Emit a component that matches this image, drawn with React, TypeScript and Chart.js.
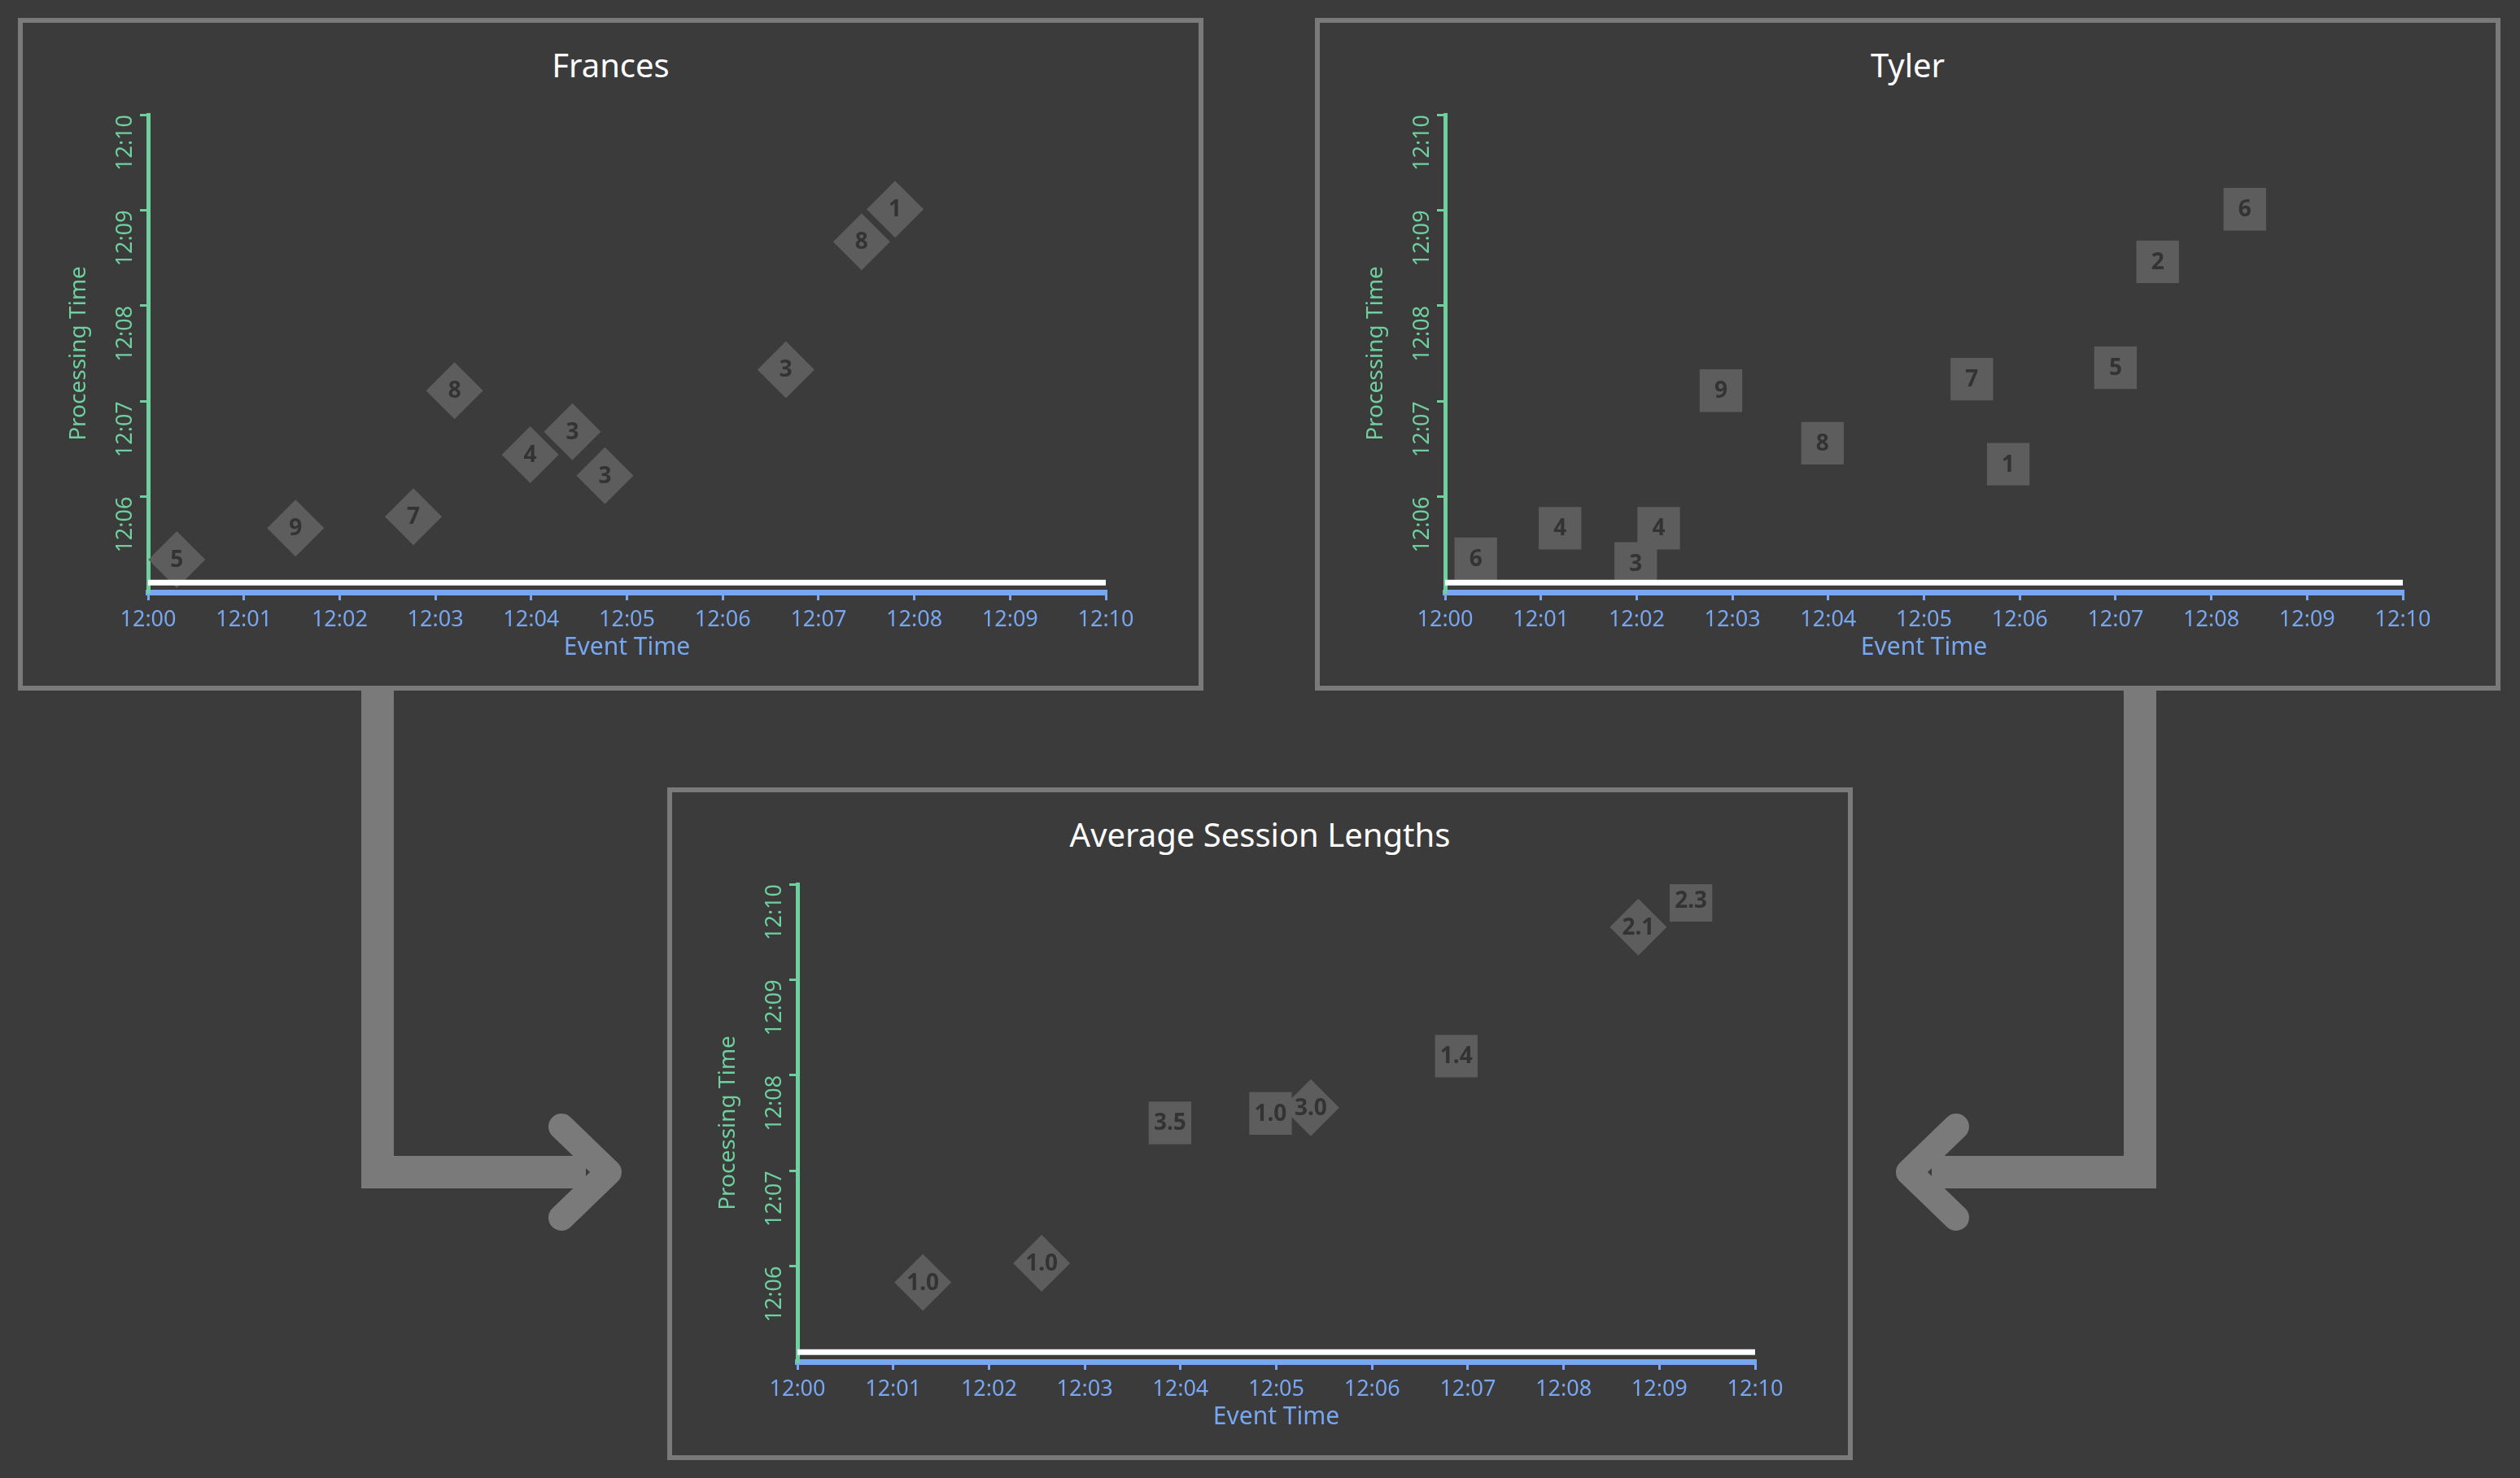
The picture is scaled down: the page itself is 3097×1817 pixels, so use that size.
import React, { useRef, useEffect } from 'react';
import { Chart, registerables } from 'chart.js';

Chart.register(...registerables);

// minutes after 12:00
const francesX = [0.3, 1.54, 2.77, 3.2, 3.99, 4.43, 4.77, 6.66, 7.45, 7.8];
const francesY = [5.34, 5.67, 5.79, 7.11, 6.44, 6.68, 6.22, 7.33, 8.67, 9.01];
const francesLabels = ['5', '9', '7', '8', '4', '3', '3', '3', '8', '1'];

const tylerX = [0.32, 1.2, 1.99, 2.23, 2.88, 3.94, 5.5, 5.88, 7.0, 7.44, 8.35];
const tylerY = [5.35, 5.67, 5.3, 5.67, 7.11, 6.56, 7.23, 6.34, 7.35, 8.46, 9.01];
const tylerLabels = ['6', '4', '3', '4', '9', '8', '7', '1', '5', '2', '6'];

const avgX = [1.31, 2.55, 3.89, 4.94, 5.36, 6.88, 8.78, 9.33];
const avgY = [5.83, 6.03, 7.5, 7.6, 7.66, 8.2, 9.55, 9.83];
const avgLabels = ['1.0', '1.0', '3.5', '1.0', '3.0', '1.4', '2.1', '2.3'];
const avgShapes = ['rectRot', 'rectRot', 'rect', 'rect', 'rectRot', 'rect', 'rectRot', 'rect'];

const xTicks = [0, 1, 2, 3, 4, 5, 6, 7, 8, 9, 10];
const yTicks = [6, 7, 8, 9, 10];
const watermarkY = 5.1;

const BG = '#3b3b3b';
const BORDER = '#7a7a7a';
const MARK = '#5d5d5d';
const BLUE = '#79a6f0';
const GREEN = '#6fcf9f';
const FONT = '"Noto Sans", "Open Sans", sans-serif';

const fmt = (v: number) => `12:${String(v).padStart(2, '0')}`;

const labelPlugin = {
  id: 'markLabels',
  afterDatasetsDraw(chart: any) {
    const meta = chart.getDatasetMeta(1);
    const labels: string[] = chart.options.plugins.markLabels.labels;
    const ctx = chart.ctx;
    ctx.save();
    ctx.font = `bold 28px ${FONT}`;
    ctx.fillStyle = '#333333';
    ctx.textAlign = 'center';
    ctx.textBaseline = 'middle';
    meta.data.forEach((pt: any, i: number) => {
      ctx.fillText(labels[i], pt.x, pt.y + 1);
    });
    ctx.restore();
  },
};

interface PanelProps {
  title: string;
  xs: number[];
  ys: number[];
  labels: string[];
  shapes: string[];
  left: number;
  top: number;
}

const Panel: React.FC<PanelProps> = ({ title, xs, ys, labels, shapes, left, top }) => {
  const canvasRef = useRef<HTMLCanvasElement>(null);

  useEffect(() => {
    if (!canvasRef.current) return;
    const chart = new Chart(canvasRef.current, {
      type: 'scatter',
      data: {
        datasets: [
          {
            type: 'line',
            data: [{ x: 0, y: watermarkY }, { x: 10, y: watermarkY }],
            borderColor: '#ffffff',
            borderWidth: 7,
            pointRadius: 0,
          } as any,
          {
            data: xs.map((x, i) => ({ x, y: ys[i] })),
            backgroundColor: MARK,
            borderColor: MARK,
            borderWidth: 0,
            pointStyle: shapes as any,
            pointRadius: shapes.map(s => (s === 'rect' ? 37 : 35)),
          },
        ],
      },
      options: {
        animation: false,
        responsive: false,
        layout: { padding: { top: 113, right: 114, bottom: 25, left: 0 } },
        plugins: {
          legend: { display: false },
          tooltip: { enabled: false },
          markLabels: { labels },
        } as any,
        scales: {
          x: {
            type: 'linear',
            min: 0,
            max: 10,
            afterBuildTicks: (s: any) => { s.ticks = xTicks.map(v => ({ value: v })); },
            afterFit: (s: any) => { s.height = 90; },
            ticks: { color: BLUE, font: { size: 27, family: FONT }, padding: 8, callback: (v: any) => fmt(v) },
            grid: { drawOnChartArea: false, color: BLUE, tickLength: 10, lineWidth: 3 },
            border: { color: BLUE, width: 7 },
            title: { display: true, text: 'Event Time', color: BLUE, font: { size: 30, family: FONT }, padding: { top: 22 } },
          },
          y: {
            type: 'linear',
            min: 5,
            max: 10,
            afterBuildTicks: (s: any) => { s.ticks = yTicks.map(v => ({ value: v })); },
            afterFit: (s: any) => { s.width = 154; },
            ticks: { color: GREEN, font: { size: 27, family: FONT }, padding: 18, minRotation: 90, maxRotation: 90, callback: (v: any) => fmt(v) },
            grid: { drawOnChartArea: false, color: GREEN, tickLength: 10, lineWidth: 3 },
            border: { color: GREEN, width: 5 },
            title: { display: true, text: 'Processing Time', color: GREEN, font: { size: 28, family: FONT }, padding: { top: 52, bottom: 4 } },
          },
        },
      },
      plugins: [labelPlugin],
    });
    return () => chart.destroy();
  }, [xs, ys, labels, shapes]);

  return (
    <div
      style={{
        position: 'absolute',
        left,
        top,
        width: 1445,
        height: 815,
        border: `6px solid ${BORDER}`,
        background: BG,
      }}
    >
      <div
        style={{
          position: 'absolute',
          top: 28,
          width: 1445,
          textAlign: 'center',
          color: '#ffffff',
          font: `40px ${FONT}`,
          lineHeight: '48px',
        }}
      >
        {title}
      </div>
      <canvas ref={canvasRef} width={1445} height={815} style={{ position: 'absolute', left: 0, top: 0 }} />
    </div>
  );
};

const App: React.FC = () => {
  useEffect(() => {
    document.body.style.margin = '0';
    document.body.style.background = BG;
  }, []);

  return (
    <div style={{ position: 'relative', width: 3097, height: 1817, background: BG, overflow: 'hidden' }}>
      <svg width={3097} height={1817} style={{ position: 'absolute', left: 0, top: 0 }}>
        <g fill="none" stroke={BORDER} strokeLinecap="round" strokeLinejoin="round">
          <path d="M464 849 L464 1441 L720 1441" strokeWidth={40} strokeLinecap="butt" strokeLinejoin="miter" />
          <path d="M690 1385 L748 1441 L690 1497" strokeWidth={32} />
          <path d="M2630 849 L2630 1441 L2374 1441" strokeWidth={40} strokeLinecap="butt" strokeLinejoin="miter" />
          <path d="M2404 1385 L2346 1441 L2404 1497" strokeWidth={32} />
        </g>
      </svg>
      <Panel title="Frances" xs={francesX} ys={francesY} labels={francesLabels}
        shapes={francesX.map(() => 'rectRot')} left={22} top={22} />
      <Panel title="Tyler" xs={tylerX} ys={tylerY} labels={tylerLabels}
        shapes={tylerX.map(() => 'rect')} left={1616} top={22} />
      <Panel title="Average Session Lengths" xs={avgX} ys={avgY} labels={avgLabels}
        shapes={avgShapes} left={820} top={968} />
    </div>
  );
};

export default App;
